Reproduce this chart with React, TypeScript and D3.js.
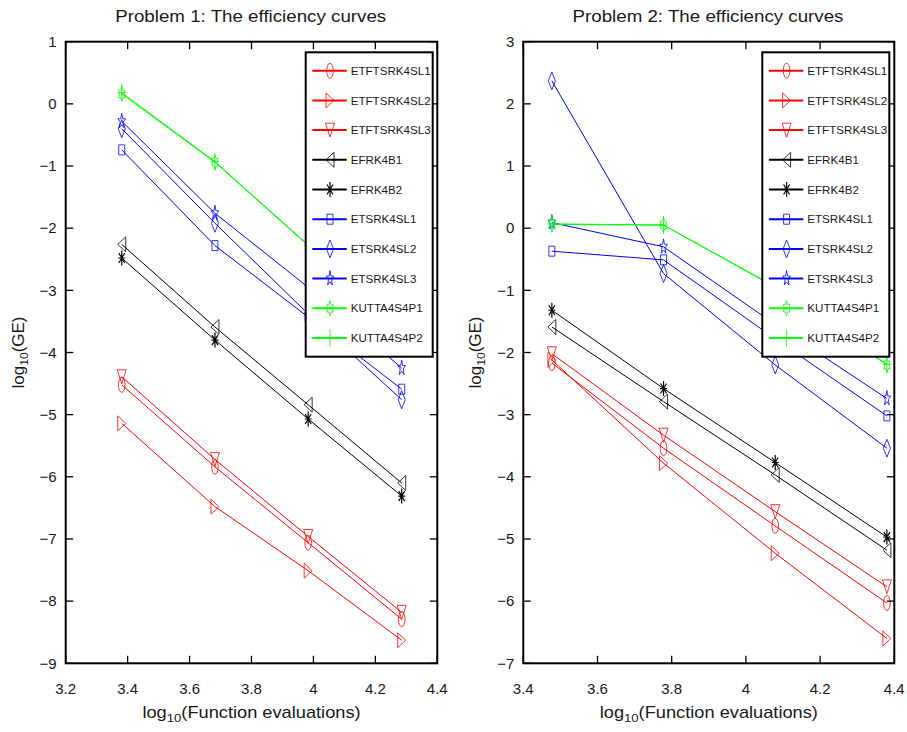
import React from 'react';
import * as d3 from 'd3';

// method names, colours and marker symbols (same for both problems)
const methods = ['ETFTSRK4SL1', 'ETFTSRK4SL2', 'ETFTSRK4SL3', 'EFRK4B1', 'EFRK4B2', 'ETSRK4SL1', 'ETSRK4SL2', 'ETSRK4SL3', 'KUTTA4S4P1', 'KUTTA4S4P2'];
const methodColors = ['#ff0000', '#ff0000', '#ff0000', '#000000', '#000000', '#0000ff', '#0000ff', '#0000ff', '#00ff00', '#00ff00'];
const methodMarkers = ['o', '>', 'v', '<', '*', 's', 'd', 'p', 'h', '+'];

// Problem 1: log10(function evaluations) and log10(GE)
const evals1 = [3.381, 3.682, 3.983, 4.285];
const errors1 = [
  [-4.52, -5.84, -7.06, -8.29],
  [-5.14, -6.48, -7.51, -8.63],
  [-4.39, -5.72, -6.96, -8.18],
  [-2.26, -3.59, -4.84, -6.10],
  [-2.48, -3.80, -5.07, -6.31],
  [-0.74, -2.28, -3.43, -4.59],
  [-0.40, -1.92, -3.38, -4.76],
  [-0.28, -1.76, -2.95, -4.25],
  [0.16, -0.94, -2.28, -3.55],
  [0.18, -0.93, -2.27, -3.54],
];
const xTicks1 = [3.2, 3.4, 3.6, 3.8, 4, 4.2, 4.4];
const yTicks1 = [-9, -8, -7, -6, -5, -4, -3, -2, -1, 0, 1];

// Problem 2
const evals2 = [3.477, 3.778, 4.079, 4.380];
const errors2 = [
  [-2.17, -3.54, -4.79, -6.03],
  [-2.12, -3.78, -5.23, -6.60],
  [-2.02, -3.33, -4.56, -5.77],
  [-1.59, -2.79, -3.97, -5.18],
  [-1.32, -2.58, -3.77, -4.97],
  [-0.37, -0.51, -1.78, -3.02],
  [2.37, -0.73, -2.20, -3.54],
  [0.09, -0.30, -1.55, -2.74],
  [0.06, 0.05, -0.95, -2.20],
  [0.07, 0.05, -0.94, -2.19],
];
const xTicks2 = [3.4, 3.6, 3.8, 4, 4.2, 4.4];
const yTicks2 = [-7, -6, -5, -4, -3, -2, -1, 0, 1, 2, 3];

const FONT = 'Liberation Sans, Arial, Helvetica, sans-serif';

const starPoints = (n: number, outer: number, inner: number) => {
  const pts: [number, number][] = [];
  for (let i = 0; i < n * 2; i++) {
    const r = i % 2 === 0 ? outer : inner;
    const a = -Math.PI / 2 + (i * Math.PI) / n;
    pts.push([Math.cos(a) * r * 0.5, Math.sin(a) * r]);
  }
  return 'M' + pts.map(p => p.join(',')).join('L') + 'Z';
};

const markerPath = (m: string) => {
  switch (m) {
    case 'o': return 'M0,-7.5A3.3,7.5 0 1,1 0,7.5A3.3,7.5 0 1,1 0,-7.5Z';
    case '>': return 'M-4,-7.5L4,0L-4,7.5Z';
    case '<': return 'M4,-7.5L-4,0L4,7.5Z';
    case 'v': return 'M-4.5,-7L4.5,-7L0,7Z';
    case '*': return 'M0,-7.5V7.5M-3.5,0H3.5M-3,-5L3,5M-3,5L3,-5';
    case 's': return 'M-3,-5H3V5H-3Z';
    case 'd': return 'M0,-9L3.5,0L0,9L-3.5,0Z';
    case 'p': return starPoints(5, 8, 3.2);
    case 'h': return starPoints(6, 7.5, 4.3);
    case '+': return 'M0,-9V9M-4.5,0H4.5';
    default: return '';
  }
};

type PanelProps = {
  title: string;
  evals: number[];
  errors: number[][];
  xTicks: number[];
  yTicks: number[];
  left: number;
  right: number;
  legendX: number;
};

const top = 41.7;
const bottom = 663.3;

const fmt = (v: number) => {
  const s = String(+v.toFixed(1));
  return s.replace('-', '\u2212');
};

const Panel = ({ title, evals, errors, xTicks, yTicks, left, right, legendX }: PanelProps) => {
  const x = d3.scaleLinear().domain([xTicks[0], xTicks[xTicks.length - 1]]).range([left, right]);
  const y = d3.scaleLinear().domain([yTicks[0], yTicks[yTicks.length - 1]]).range([bottom, top]);
  const line = d3.line<number>().x((_, i) => x(evals[i])).y(v => y(v));
  const cx = (left + right) / 2;
  const legendW = 127;
  const legendTop = 52.3;
  const rowH = 29.7;

  return (
    <g fontFamily={FONT} fill="#1a1a1a">
      <text transform={`translate(${cx - 0.8},21.7) scale(1.15,1)`} textAnchor="middle" fontSize={16.3}>{title}</text>

      {errors.map((vals, k) => (
        <g key={methods[k]}>
          <path d={line(vals) || ''} fill="none" stroke={methodColors[k]} strokeWidth={1} />
          {vals.map((v, i) => (
            <path key={i} d={markerPath(methodMarkers[k])} transform={`translate(${x(evals[i])},${y(v)})`}
              fill="none" stroke={methodColors[k]} strokeWidth={methodMarkers[k] === '*' ? 1.2 : 0.8} />
          ))}
        </g>
      ))}

      {/* axes box with inward ticks */}
      <rect x={left} y={top} width={right - left} height={bottom - top} fill="none" stroke="#000" strokeWidth={2} />
      {xTicks.map(t => (
        <g key={'x' + t}>
          <line x1={x(t)} x2={x(t)} y1={bottom} y2={bottom - 7.5} stroke="#000" strokeWidth={1.3} />
          <line x1={x(t)} x2={x(t)} y1={top} y2={top + 7.5} stroke="#000" strokeWidth={1.3} />
          <text x={x(t)} y={694} textAnchor="middle" fontSize={15}>{fmt(t)}</text>
        </g>
      ))}
      {yTicks.map(t => (
        <g key={'y' + t}>
          <line x1={left} x2={left + 7.5} y1={y(t)} y2={y(t)} stroke="#000" strokeWidth={1.3} />
          <line x1={right} x2={right - 7.5} y1={y(t)} y2={y(t)} stroke="#000" strokeWidth={1.3} />
          <text x={left - 9} y={y(t) + 5.3} textAnchor="end" fontSize={15}>{fmt(t)}</text>
        </g>
      ))}

      <text transform={`translate(${cx},718) scale(1.14,1)`} textAnchor="middle" fontSize={16}>
        log<tspan fontSize={11.5} dy={4}>10</tspan><tspan dy={-4}>(Function evaluations)</tspan>
      </text>
      <text transform={`translate(${left - 42},${(top + bottom) / 2}) rotate(-90) scale(1.06,1)`} textAnchor="middle" fontSize={16}>
        log<tspan fontSize={11.5} dy={4}>10</tspan><tspan dy={-4}>(GE)</tspan>
      </text>

      {/* legend */}
      <rect x={legendX} y={legendTop} width={legendW} height={304.4} fill="#fff" stroke="#000" strokeWidth={2} />
      {methods.map((name, k) => {
        const ry = legendTop + 18.4 + k * rowH;
        return (
          <g key={'lg' + name}>
            <line x1={legendX + 6.6} x2={legendX + 41} y1={ry} y2={ry} stroke={methodColors[k]} strokeWidth={2} />
            <path d={markerPath(methodMarkers[k])} transform={`translate(${legendX + 24.3},${ry})`}
              fill="none" stroke={methodColors[k]} strokeWidth={methodMarkers[k] === '*' ? 1.2 : 0.8} />
            <text x={legendX + 45} y={ry + 4.1} fontSize={11.6}>{name}</text>
          </g>
        );
      })}
    </g>
  );
};

export default function App() {
  return (
    <svg width={907} height={732} style={{ position: 'absolute', left: 0, top: 0, background: '#fff' }}>
      <rect width={907} height={732} fill="#fff" />
      <Panel title="Problem 1: The efficiency curves" evals={evals1} errors={errors1}
        xTicks={xTicks1} yTicks={yTicks1} left={65.7} right={437.3} legendX={305.7} />
      <Panel title="Problem 2: The efficiency curves" evals={evals2} errors={errors2}
        xTicks={xTicks2} yTicks={yTicks2} left={523.3} right={894.3} legendX={762.3} />
    </svg>
  );
}
